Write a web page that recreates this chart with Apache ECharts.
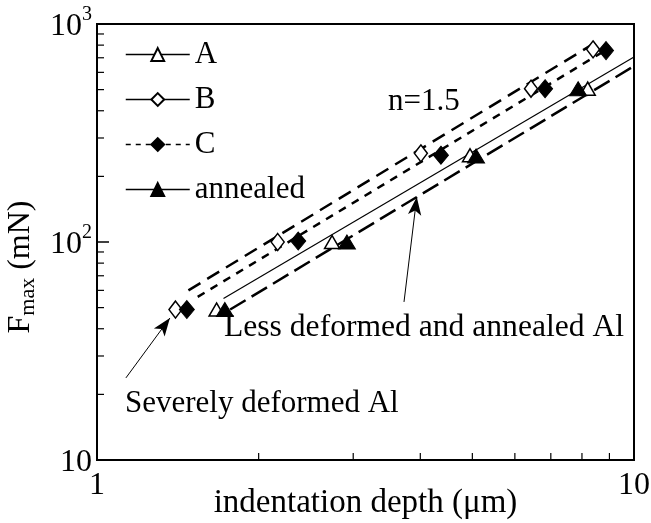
<!DOCTYPE html>
<html>
<head>
<meta charset="utf-8">
<script src="https://cdn.jsdelivr.net/npm/echarts@6.0.0/dist/echarts.min.js"></script>
<style>
  html, body { margin: 0; padding: 0; background: #fff; }
  #chart { width: 651px; height: 523px; }
</style>
</head>
<body>
<div id="chart"></div>
<script>
// indentation depth (um) and max load (mN)
const depthA = [1.67, 2.74, 4.95, 8.2];
const loadA = [49, 100, 250, 505];
const depthB = [1.40, 2.17, 4.01, 6.43, 8.39];
const loadB = [49, 100, 255, 505, 765];
const depthC = [1.47, 2.37, 4.37, 6.83, 8.87];
const loadC = [49, 101, 250, 505, 755];
const depthAnn = [1.73, 2.92, 5.08, 7.87];
const loadAnn = [49, 100, 248, 505];

// n=1.5 fit lines (start / end points)
const fitA = [[1.72, 55], [10, 706]];
const fitB = [[1.48, 60], [8.57, 835]];
const fitC = [[1.54, 56], [8.87, 760]];
const fitAnn = [[1.77, 49], [10, 641]];

// annotation arrows: [tail, tip]
const arrowSevere = [[1.132, 23.8], [1.367, 44.8]];
const arrowLess = [[3.73, 53.1], [3.94, 160.8]];

// minor ticks
const xMinor = [2, 3, 4, 5, 6, 7, 8, 9];
const yMinor = [20, 30, 40, 50, 60, 70, 80, 90, 200, 300, 400, 500, 600, 700, 800, 900];
const yTickLabels = { 10: '{n|10}', 100: '{n|10}{s|2}', 1000: '{n|10}{s|3}' };

const FONT = '"Liberation Serif", "Times New Roman", serif';

function zip(xs, ys) {
  return xs.map((x, i) => [x, ys[i]]);
}

const chart = echarts.init(document.getElementById('chart'));

const markerBase = {
  type: 'line',
  lineStyle: { width: 0, opacity: 0 },
  emphasis: { disabled: true },
  z: 5
};

const option = {
  animation: false,
  backgroundColor: '#fff',
  grid: {
    left: 97, right: 17, top: 24, bottom: 63,
    outerBoundsMode: 'none', containLabel: false,
    show: true, borderColor: '#000', borderWidth: 2
  },
  legend: {
    orient: 'vertical',
    left: 120, top: 34,
    itemWidth: 64, itemHeight: 16, itemGap: 14,
    selectedMode: false,
    textStyle: { fontFamily: FONT, fontSize: 31, color: '#000' },
    data: [
      { name: 'A', lineStyle: { color: '#000', width: 1.5, opacity: 1, type: 'solid' } },
      { name: 'B', lineStyle: { color: '#000', width: 1.5, opacity: 1, type: 'solid' } },
      { name: 'C', lineStyle: { color: '#000', width: 1.5, opacity: 1, type: [5, 5] } },
      { name: 'annealed', lineStyle: { color: '#000', width: 1.5, opacity: 1, type: 'solid' } }
    ]
  },
  xAxis: {
    type: 'log', logBase: 10, min: 1, max: 10,
    name: 'indentation depth (\u03bcm)',
    nameLocation: 'middle', nameGap: 27, nameMoveOverlap: false,
    nameTextStyle: { fontFamily: FONT, fontSize: 33, color: '#000' },
    axisLine: { lineStyle: { color: '#000', width: 2 } },
    axisTick: { inside: true, length: 10, lineStyle: { color: '#000', width: 1.5 } },
    axisLabel: { fontFamily: FONT, fontSize: 32, color: '#000', margin: 10 },
    splitLine: { show: false }
  },
  yAxis: {
    type: 'log', logBase: 10, min: 10, max: 1000,
    name: '{F|F}{sub|max}{F| (mN)}',
    nameLocation: 'middle', nameGap: 56,
    nameTextStyle: {
      padding: [0, 50, 0, 0],
      rich: {
        F: { fontFamily: FONT, fontSize: 32, color: '#000' },
        sub: { fontFamily: FONT, fontSize: 22, color: '#000', padding: [16, 0, 0, 0] }
      }
    },
    axisLine: { lineStyle: { color: '#000', width: 2 } },
    axisTick: { inside: true, length: 12, lineStyle: { color: '#000', width: 1.5 } },
    axisLabel: {
      margin: 5,
      formatter: v => yTickLabels[Math.round(v)] || '',
      rich: {
        n: { fontFamily: FONT, fontSize: 32, color: '#000', padding: [6, 0, 0, 0] },
        s: { fontFamily: FONT, fontSize: 20, color: '#000', padding: [0, 0, 18, 0] }
      }
    },
    splitLine: { show: false }
  },
  graphic: [
    { type: 'text', left: 388, top: 86, style: { text: 'n=1.5', font: '31px ' + FONT, fill: '#000' } },
    { type: 'text', left: 224, top: 312, style: { text: 'Less deformed and annealed Al', font: '31.6px ' + FONT, fill: '#000' } },
    { type: 'text', left: 125, top: 388, style: { text: 'Severely deformed Al', font: '31px ' + FONT, fill: '#000' } }
  ],
  series: [
    {
      name: 'fitB', type: 'line', data: fitB, symbol: 'none', z: 2,
      lineStyle: { color: '#000', width: 2.5, type: [14, 8] }
    },
    {
      name: 'fitC', type: 'line', data: fitC, symbol: 'none', z: 2,
      lineStyle: { color: '#000', width: 2.5, type: [8, 7] }
    },
    {
      name: 'fitA', type: 'line', data: fitA, symbol: 'none', z: 2,
      lineStyle: { color: '#000', width: 1.2, type: 'solid' }
    },
    {
      name: 'fitAnn', type: 'line', data: fitAnn, symbol: 'none', z: 2,
      lineStyle: { color: '#000', width: 2.5, type: [18, 7] },
      markLine: {
        silent: true, animation: false,
        symbol: ['none', 'arrow'], symbolSize: [10, 18],
        label: { show: false },
        lineStyle: { color: '#000', width: 1, type: 'solid' },
        data: [
          [{ coord: arrowSevere[0] }, { coord: arrowSevere[1] }],
          [{ coord: arrowLess[0] }, { coord: arrowLess[1] }]
        ]
      }
    },
    Object.assign({}, markerBase, {
      name: 'A', data: zip(depthA, loadA),
      symbol: 'triangle', symbolSize: [15, 13],
      itemStyle: { color: '#fff', borderColor: '#000', borderWidth: 1.5 }
    }),
    Object.assign({}, markerBase, {
      name: 'B', data: zip(depthB, loadB),
      symbol: 'diamond', symbolSize: [13, 17],
      itemStyle: { color: '#fff', borderColor: '#000', borderWidth: 1.5 }
    }),
    Object.assign({}, markerBase, {
      name: 'C', data: zip(depthC, loadC),
      symbol: 'diamond', symbolSize: [15, 18],
      itemStyle: { color: '#000', borderColor: '#000', borderWidth: 1 }
    }),
    Object.assign({}, markerBase, {
      name: 'annealed', data: zip(depthAnn, loadAnn),
      symbol: 'triangle', symbolSize: [17, 14],
      itemStyle: { color: '#000', borderColor: '#000', borderWidth: 1 }
    })
  ]
};

chart.setOption(option);

// minor ticks, placed through the axis scales
const ticks = [];
const x0 = chart.convertToPixel({ xAxisIndex: 0 }, 1);
const yBottom = chart.convertToPixel({ yAxisIndex: 0 }, 10);
xMinor.forEach(v => {
  const px = chart.convertToPixel({ xAxisIndex: 0 }, v);
  ticks.push({
    type: 'line', silent: true, z: 10,
    shape: { x1: px, y1: yBottom, x2: px, y2: yBottom - 7 },
    style: { stroke: '#000', lineWidth: 1.2 }
  });
});
yMinor.forEach(v => {
  const py = chart.convertToPixel({ yAxisIndex: 0 }, v);
  ticks.push({
    type: 'line', silent: true, z: 10,
    shape: { x1: x0, y1: py, x2: x0 + 7, y2: py },
    style: { stroke: '#000', lineWidth: 1.2 }
  });
});
chart.setOption({ graphic: option.graphic.concat(ticks) });
</script>
</body>
</html>
